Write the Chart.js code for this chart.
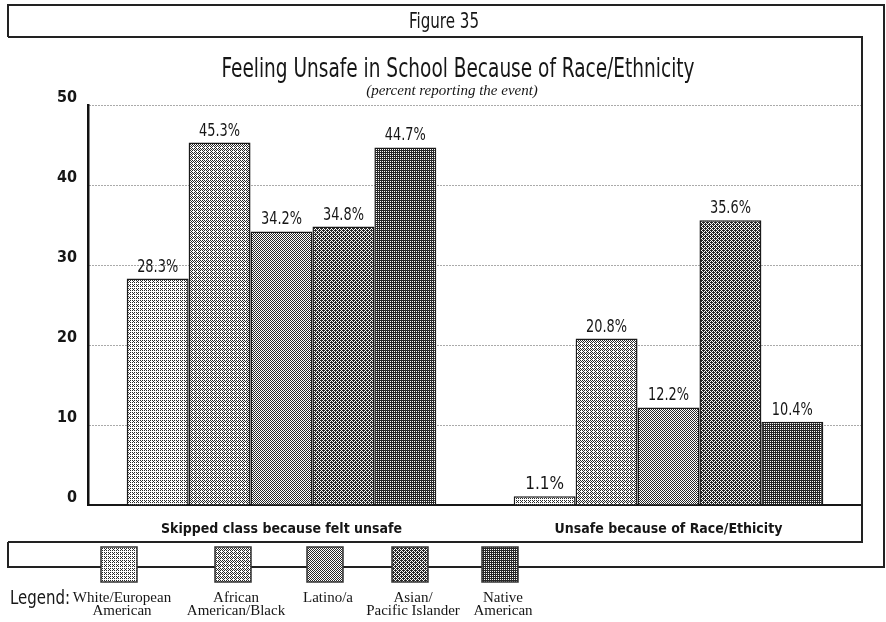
<!DOCTYPE html>
<html>
<head>
<meta charset="utf-8">
<title>Figure 35</title>
<script src="https://cdn.jsdelivr.net/npm/chart.js@4"></script>
<style>
  html, body { margin: 0; padding: 0; background: #fff; }
  canvas { display: block; }
</style>
</head>
<body>
<canvas id="fig35" width="886" height="622"></canvas>
<script>
// Data
const categories = ['Skipped class because felt unsafe', 'Unsafe because of Race/Ethicity'];
const groups = ['White/European American', 'African American/Black', 'Latino/a', 'Asian/Pacific Islander', 'Native American'];
const legendLines = [['White/European', 'American'], ['African', 'American/Black'], ['Latino/a'], ['Asian/', 'Pacific Islander'], ['Native', 'American']];
const whiteEuropean = [28.3, 1.1];
const africanAmerican = [45.3, 20.8];
const latino = [34.2, 12.2];
const asianPacific = [34.8, 35.6];
const nativeAmerican = [44.7, 10.4];
const yTicks = [0, 10, 20, 30, 40, 50];

// grey level of each group (0-255), drawn as an ordered dither like the print
const greyLevels = [200, 168, 150, 122, 96];

const narrow = "'DejaVu Sans Condensed', 'Liberation Sans Narrow', 'Arial Narrow', sans-serif";
const serif = "'Liberation Serif', 'DejaVu Serif', serif";
const ink = '#161616';

// Bayer 4x4 dither pattern
const bayer = [[0, 8, 2, 10], [12, 4, 14, 6], [3, 11, 1, 9], [15, 7, 13, 5]];
function makeDither(level) {
    const c = document.createElement('canvas');
    c.width = 4; c.height = 4;
    const g = c.getContext('2d');
    const dark = (255 - level) / (255 - 40) * 16;
    for (let y = 0; y < 4; y++) {
        for (let x = 0; x < 4; x++) {
            g.fillStyle = bayer[y][x] < dark ? '#282828' : '#ffffff';
            g.fillRect(x, y, 1, 1);
        }
    }
    return g.createPattern(c, 'repeat');
}
const fills = greyLevels.map(makeDither);

const seriesValues = [whiteEuropean, africanAmerican, latino, asianPacific, nativeAmerican];

// draw text squeezed horizontally to a given width (the print uses a condensed face)
function fitText(ctx, text, cx, y, width) {
    const w = ctx.measureText(text).width;
    const k = Math.min(1, width / w);
    ctx.save();
    ctx.translate(cx, y);
    ctx.scale(k, 1);
    ctx.textAlign = 'center';
    ctx.fillText(text, 0, 0);
    ctx.restore();
}

// Frame, titles and legend
const framePlugin = {
    id: 'frame',
    beforeDraw(chart) {
        const ctx = chart.ctx;
        ctx.save();
        ctx.fillStyle = '#fff';
        ctx.fillRect(0, 0, chart.width, chart.height);
        ctx.restore();
    },
    afterDraw(chart) {
        const ctx = chart.ctx;
        const area = chart.chartArea;
        ctx.save();
        ctx.strokeStyle = '#222';
        ctx.lineWidth = 2;
        ctx.beginPath();
        // outer frame
        ctx.moveTo(8, 37); ctx.lineTo(8, 5); ctx.lineTo(884, 5); ctx.lineTo(884, 567); ctx.lineTo(8, 567); ctx.lineTo(8, 542);
        // header bottom and chart box
        ctx.moveTo(8, 37); ctx.lineTo(area.right, 37); ctx.lineTo(area.right, 542); ctx.lineTo(8, 542);
        ctx.stroke();

        ctx.fillStyle = ink;
        ctx.textBaseline = 'alphabetic';
        ctx.font = '22px ' + narrow;
        fitText(ctx, 'Figure 35', 444, 28, 70);
        ctx.font = '26px ' + narrow;
        fitText(ctx, 'Feeling Unsafe in School Because of Race/Ethnicity', 458, 77, 473);
        ctx.font = 'italic 15px ' + serif;
        fitText(ctx, '(percent reporting the event)', 452, 95, 196);

        // legend swatches
        const swatchX = [119, 233, 325, 410, 500];
        chart.data.datasets.forEach((ds, i) => {
            const x = swatchX[i] - 18;
            ctx.fillStyle = ds.backgroundColor;
            ctx.fillRect(x, 547, 36, 35);
            ctx.lineWidth = 1.5;
            ctx.strokeStyle = '#333';
            ctx.strokeRect(x, 547, 36, 35);
            ctx.fillStyle = ink;
            ctx.font = '15px ' + serif;
            legendLines[i].forEach((line, j) => {
                fitText(ctx, line, swatchX[i] + 3, 602 + j * 13, 102);
            });
        });
        ctx.font = '20px ' + narrow;
        fitText(ctx, 'Legend:', 40, 604, 60);
        ctx.restore();
    }
};

// value labels above the bars
const valueLabels = {
    id: 'valueLabels',
    afterDatasetsDraw(chart) {
        const ctx = chart.ctx;
        ctx.save();
        ctx.fillStyle = ink;
        ctx.font = '17px ' + narrow;
        ctx.textBaseline = 'bottom';
        chart.data.datasets.forEach((ds, i) => {
            chart.getDatasetMeta(i).data.forEach((bar, j) => {
                fitText(ctx, ds.data[j].toFixed(1) + '%', bar.x, bar.y - 3, 41);
            });
        });
        ctx.restore();
    }
};

new Chart(document.getElementById('fig35'), {
    type: 'bar',
    data: {
        labels: categories,
        datasets: groups.map((name, i) => ({
            label: name,
            data: seriesValues[i],
            backgroundColor: fills[i],
            borderColor: '#1a1a1a',
            borderWidth: 1.5,
            categoryPercentage: 0.8,
            barPercentage: 1.0
        }))
    },
    options: {
        responsive: false,
        animation: false,
        devicePixelRatio: 1,
        layout: { padding: { top: 105, right: 24, bottom: 0, left: 0 } },
        plugins: {
            legend: { display: false },
            tooltip: { enabled: false },
            title: { display: false }
        },
        scales: {
            x: {
                grid: { display: false },
                border: { display: true, color: '#161616', width: 2 },
                ticks: {
                    color: ink,
                    padding: 8,
                    font: { family: narrow, size: 14, weight: 'bold' }
                },
                afterFit(scale) { scale.height = 117; }
            },
            y: {
                min: 0,
                max: 50,
                afterBuildTicks(scale) { scale.ticks = yTicks.map(v => ({ value: v })); },
                grid: { color: '#555', lineWidth: 1, drawTicks: false },
                border: { display: true, color: '#111', width: 2.5, dash: [1, 2] },
                ticks: {
                    color: ink,
                    padding: 11,
                    labelOffset: -7,
                    font: { family: narrow, size: 16, weight: 'bold' }
                },
                afterFit(scale) { scale.width = 88; }
            }
        }
    },
    plugins: [framePlugin, valueLabels]
});
</script>
</body>
</html>
